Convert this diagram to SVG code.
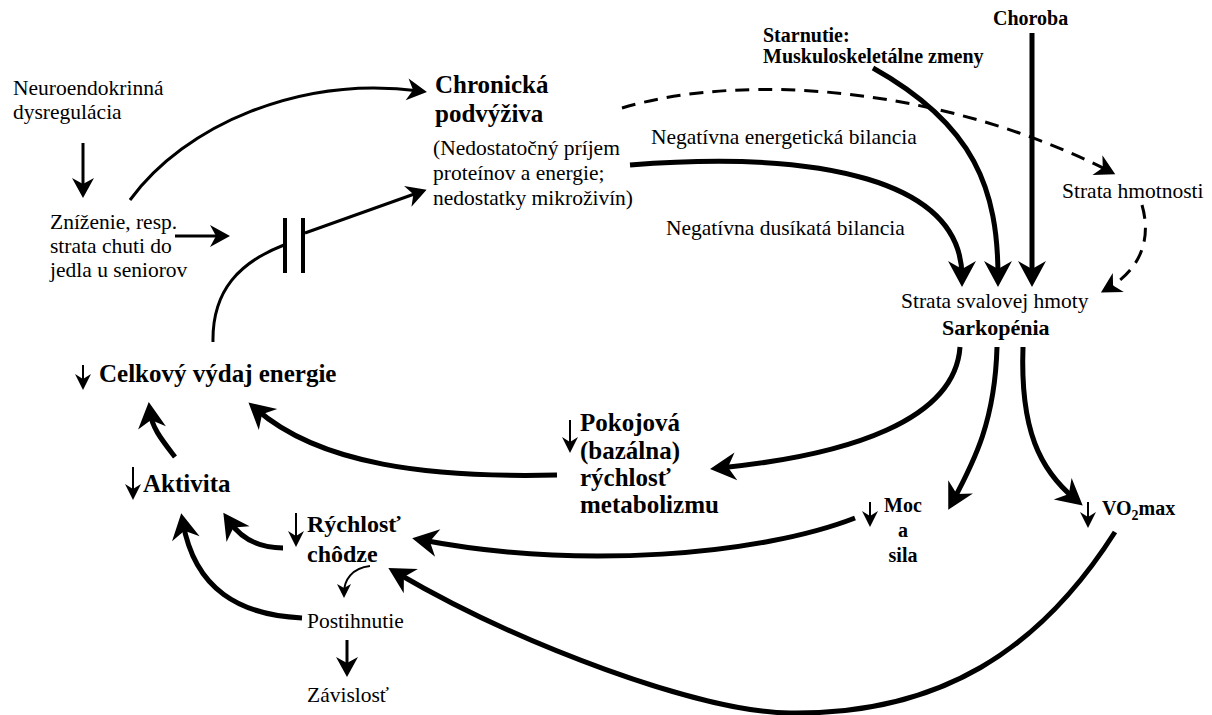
<svg xmlns="http://www.w3.org/2000/svg" width="1212" height="715" viewBox="0 0 1212 715">
<style>
text{font-family:"Liberation Serif","Times New Roman",serif;fill:#000}
.n{font-size:21.5px}
.b{font-weight:bold}
.c{fill:none;stroke:#000;stroke-linecap:butt}
.w5{stroke-width:5}
.w3{stroke-width:3}
.w2{stroke-width:2}
.d{stroke-dasharray:14 9}
.big{marker-end:url(#big)}
.med{marker-end:url(#med)}
.sm{marker-end:url(#sm)}
.ti{marker-end:url(#tiny)}
</style>
<defs>
<marker id="big" markerUnits="userSpaceOnUse" markerWidth="30" markerHeight="30" refX="16" refY="14" orient="auto" overflow="visible"><path d="M26,14 L0,0 L8,14 L0,28 Z"/></marker>
<marker id="med" markerUnits="userSpaceOnUse" markerWidth="24" markerHeight="24" refX="13" refY="11" orient="auto" overflow="visible"><path d="M20,11 L0,0 L6,11 L0,22 Z"/></marker>
<marker id="sm" markerUnits="userSpaceOnUse" markerWidth="16" markerHeight="16" refX="9" refY="7" orient="auto" overflow="visible"><path d="M14,7 L0,0 L4,7 L0,14 Z"/></marker>
<marker id="tiny" markerUnits="userSpaceOnUse" markerWidth="18" markerHeight="18" refX="10" refY="8" orient="auto" overflow="visible"><path d="M16,8 L0,0 L5,8 L0,16 Z"/></marker>
</defs>
<rect width="1212" height="715" fill="#fff"/>

<g id="connectors">
  <!-- thick arrows -->
  <path class="c w5 big" d="M1032,33 L1032,277"/>
  <path class="c w5 big" d="M873,68 C975,125 998,190 998,277"/>
  <path class="c w5 big" d="M630,165 C820,150 962,180 962,277"/>
  <path class="c w5 big" d="M960,347 C955,420 850,455 720,468"/>
  <path class="c w5 big" d="M997,347 C995,420 975,460 953,501"/>
  <path class="c w5 big" d="M1023,347 C1020,430 1040,470 1075,499"/>
  <path class="c w5 big" d="M1115,532 C1040,650 940,715 790,713 C700,712 520,645 397,573"/>
  <path class="c w5 big" d="M855,518 C760,555 580,570 422,540"/>
  <path class="c w5 big" d="M557,475 C430,478 320,465 256,409"/>
  <path class="c w5 big" d="M175,457 C162,440 152,428 150,412"/>
  <path class="c w5 big" d="M283,548 C258,548 240,537 229,521"/>
  <path class="c w5 big" d="M302,618 C240,615 195,590 183,523"/>
  <!-- medium arrows -->
  <path class="c w3 med" d="M83,143 L83,191"/>
  <path class="c w3 med" d="M175,236 L223,236"/>
  <path class="c w3 med" d="M130,200 C185,125 300,75 420,91"/>
  <path class="c w3 med" d="M305,233 L420,192"/>
  <path class="c w3 med" d="M347,640 L347,670"/>
  <!-- capacitor -->
  <path class="c w3" d="M213,342 C212,290 240,262 284,245"/>
  <path class="c" stroke-width="4" d="M285,218 L285,273 M303,218 L303,273"/>
  <!-- dashed -->
  <path class="c w3 d med" d="M622,108 C750,70 950,90 1109,171"/>
  <path class="c w3 d med" d="M1142,205 C1152,240 1140,270 1107,289"/>
  <!-- small -->
  <path class="c w2 sm" d="M370,566 C352,568 344,580 344,593"/>
</g>

<g id="neuro">
  <text class="n" x="13" y="95">Neuroendokrinná</text>
  <text class="n" x="13" y="119">dysregulácia</text>
</g>
<g id="znizenie">
  <text class="n" x="50" y="229">Zníženie, resp.</text>
  <text class="n" x="50" y="253">strata chuti do</text>
  <text class="n" x="50" y="277">jedla u seniorov</text>
</g>
<g id="podvyziva">
  <text class="b" font-size="25" x="435" y="93">Chronická</text>
  <text class="b" font-size="25" x="435" y="122">podvýživa</text>
  <text class="n" x="433" y="155">(Nedostatočný príjem</text>
  <text class="n" x="433" y="180">proteínov a energie;</text>
  <text class="n" x="433" y="205">nedostatky mikroživín)</text>
</g>
<g id="bilancia-labels">
  <text class="n" x="651" y="144">Negatívna energetická bilancia</text>
  <text class="n" x="666" y="235">Negatívna dusíkatá bilancia</text>
</g>
<g id="starnutie">
  <text class="b" font-size="20" x="763" y="42">Starnutie:</text>
  <text class="b" font-size="20" x="763" y="63">Muskuloskeletálne zmeny</text>
</g>
<g id="choroba">
  <text class="b" font-size="20" x="993" y="25">Choroba</text>
</g>
<g id="strata-hmotnosti">
  <text class="n" x="1062" y="198">Strata hmotnosti</text>
</g>
<g id="sarkopenia">
  <text class="n" x="901" y="308">Strata svalovej hmoty</text>
  <text class="b" font-size="22" x="942" y="335">Sarkopénia</text>
</g>
<g id="celkovy">
  <path class="c w2 ti" d="M83,365 L83,384"/>
  <text class="b" font-size="25" x="99" y="382">Celkový výdaj energie</text>
</g>
<g id="aktivita">
  <path class="c w2 ti" d="M133,467 L133,494"/>
  <text class="b" font-size="25" x="143" y="492">Aktivita</text>
</g>
<g id="pokojova">
  <path class="c w2 ti" d="M570,420 L570,447"/>
  <text class="b" font-size="25" x="580" y="431">Pokojová</text>
  <text class="b" font-size="25" x="580" y="459">(bazálna)</text>
  <text class="b" font-size="25" x="580" y="486">rýchlosť</text>
  <text class="b" font-size="25" x="580" y="513">metabolizmu</text>
</g>
<g id="rychlost-chodze">
  <path class="c w2 ti" d="M296,513 L296,541"/>
  <text class="b" font-size="24" x="307" y="532">Rýchlosť</text>
  <text class="b" font-size="24" x="307" y="562">chôdze</text>
</g>
<g id="moc-sila">
  <path class="c w2 ti" d="M870,502 L870,521"/>
  <text class="b" font-size="20" x="903" y="512" text-anchor="middle">Moc</text>
  <text class="b" font-size="20" x="903" y="537" text-anchor="middle">a</text>
  <text class="b" font-size="20" x="903" y="562" text-anchor="middle">sila</text>
</g>
<g id="vo2max">
  <path class="c w2 ti" d="M1088,502 L1088,522"/>
  <text class="b" font-size="20" x="1102" y="515">VO<tspan font-size="14" dy="5">2</tspan><tspan dy="-5">max</tspan></text>
</g>
<g id="postihnutie">
  <text class="n" x="307" y="628">Postihnutie</text>
</g>
<g id="zavislost">
  <text class="n" x="307" y="702">Závislosť</text>
</g>
</svg>
